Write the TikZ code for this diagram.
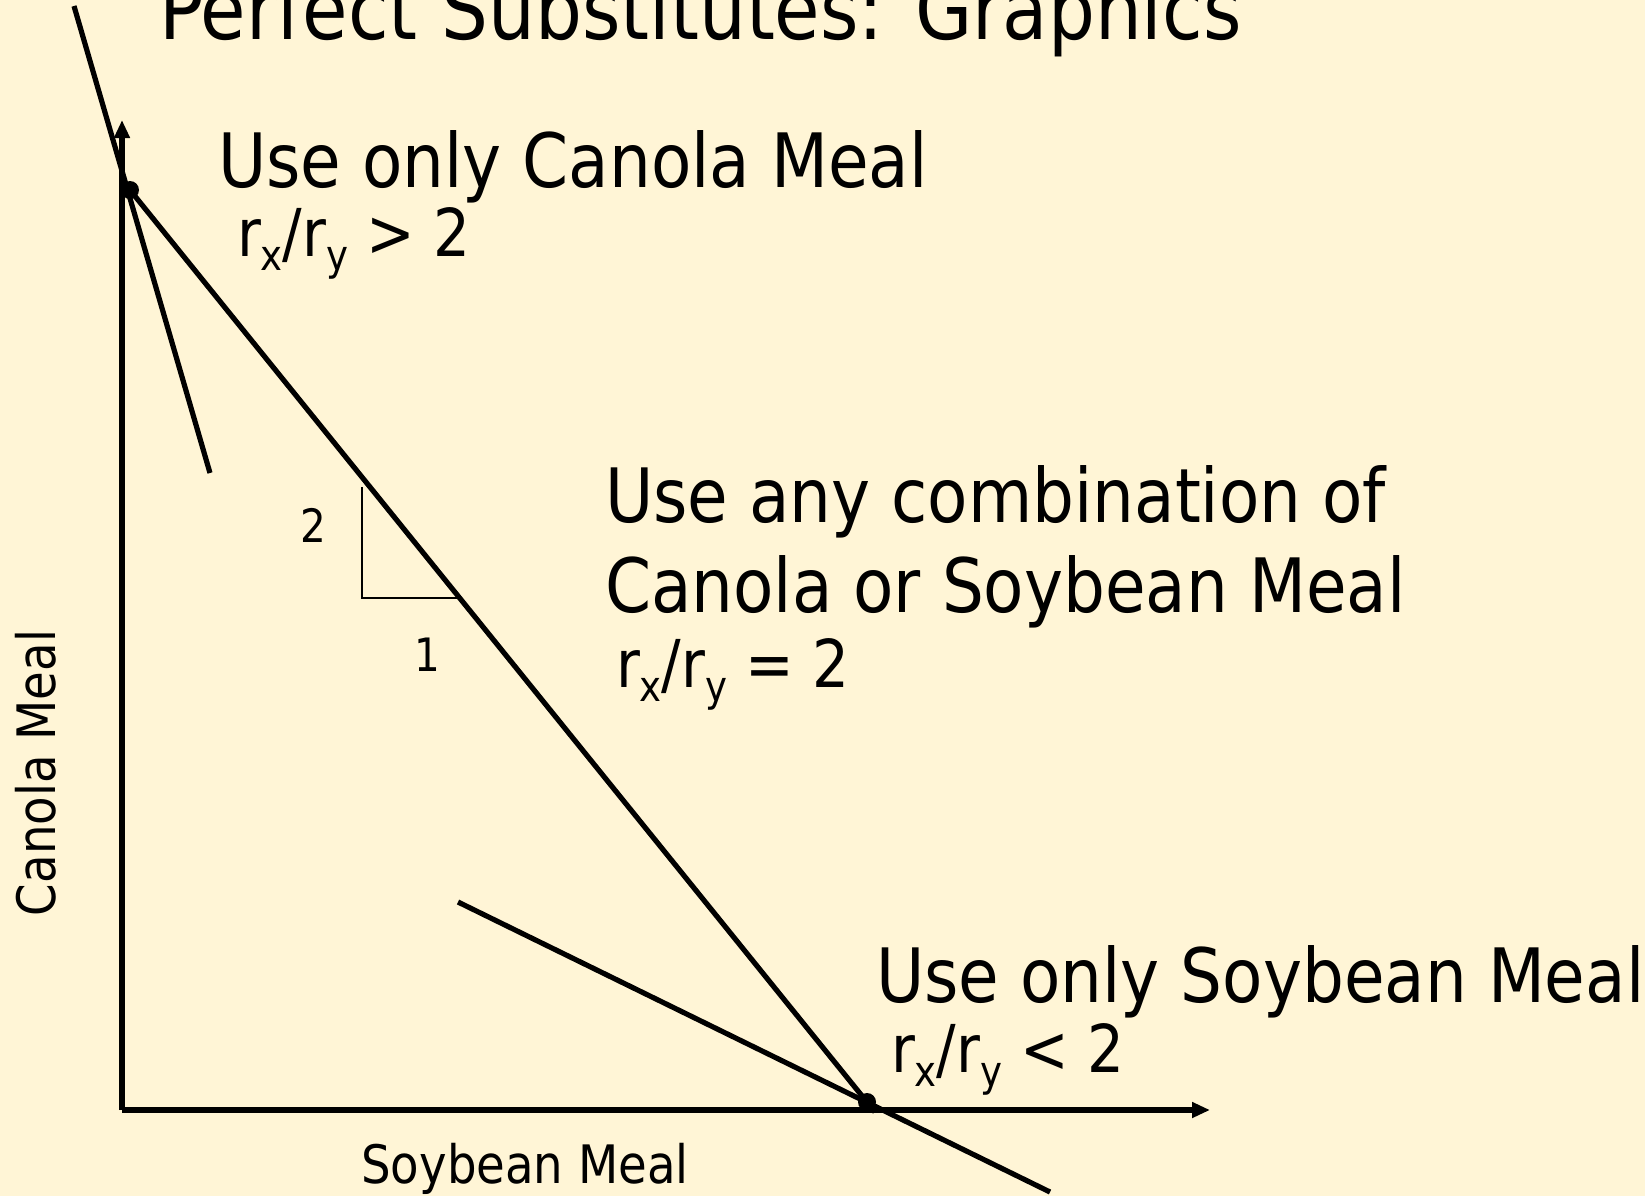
\documentclass[tikz,border=0pt]{standalone}
\usepackage{fontspec}
\usepackage{graphicx}
\setmainfont{DejaVu Sans}[FakeStretch=0.88]
\usetikzlibrary{arrows.meta}
\definecolor{bgcream}{HTML}{FFF5D6}
\newcommand\ssub[1]{\raisebox{-0.22em}{\scalebox{0.64}{#1}}}
\begin{document}
\begin{tikzpicture}[x=1pt,y=-1pt,
  txt/.style={anchor=base west,inner sep=0pt,outer sep=0pt,text=black},
  titlef/.style={txt,font=\fontsize{84}{100}\selectfont},
  bigf/.style={txt,font=\fontsize{75}{90}\selectfont},
  ratiof/.style={txt,font=\fontsize{66}{78}\selectfont},
  smallf/.style={inner sep=0pt,font=\fontsize{46}{54}\selectfont},
  axisf/.style={inner sep=0pt,font=\fontsize{53}{63}\selectfont,anchor=base},
  axisline/.style={line width=5.2pt,-{Triangle[width=15pt,length=18pt]}},
  budget/.style={line width=5.2pt},
  thin/.style={line width=2.2pt}]
\useasboundingbox (0,0) rectangle (1645,1196);
\fill[bgcream] (0,0) rectangle (1645,1196);
\clip (0,0) rectangle (1645,1196);
% coordinates
\coordinate (O) at (122,1110);
\coordinate (Ytip) at (122,120);
\coordinate (Xtip) at (1210,1110);
\coordinate (D1) at (130,190);
\coordinate (D2) at (867,1102);
\coordinate (A1) at (74,6);
\coordinate (A2) at (210,473);
\coordinate (M2) at (875,1112);
\coordinate (S1) at (458,902);
\coordinate (S2) at (1050,1192);
\coordinate (T1) at (362,487);
\coordinate (T2) at (362,598);
\coordinate (T3) at (457,598);
% axes
\draw[axisline] (O) -- (Ytip);
\draw[axisline] (O) -- (Xtip);
% lines
\draw[budget] (A1) -- (A2);
\draw[budget] (D1) -- (M2);
\draw[budget] (S1) -- (S2);
\draw[thin] (T1) -- (T2) -- (T3);
\fill (D1) circle[radius=9pt];
\fill (D2) circle[radius=9pt];
% texts
\node[titlef] (title) at (159,40) {Perfect Substitutes: Graphics};
\node[bigf] (canola) at (218,187) {Use only Canola Meal};
\node[ratiof] (rcanola) at (237,256) {r\ssub{x}/r\ssub{y} > 2};
\node[bigf] (any1) at (605,522) {Use any combination of};
\node[bigf] (any2) at (605,612) {Canola or Soybean Meal};
\node[ratiof] (rany) at (616,687) {r\ssub{x}/r\ssub{y} = 2};
\node[bigf] (soy) at (876,1002) {Use only Soybean Meal};
\node[ratiof] (rsoy) at (891,1072) {r\ssub{x}/r\ssub{y} < 2};
\node[smallf] (two) at (313,525) {2};
\node[smallf] (one) at (427,655) {1};
\node[axisf] (xlab) at (525,1183) {Soybean Meal};
\node[axisf,rotate=90] (ylab) at (55,773) {Canola Meal};
\end{tikzpicture}
\end{document}
